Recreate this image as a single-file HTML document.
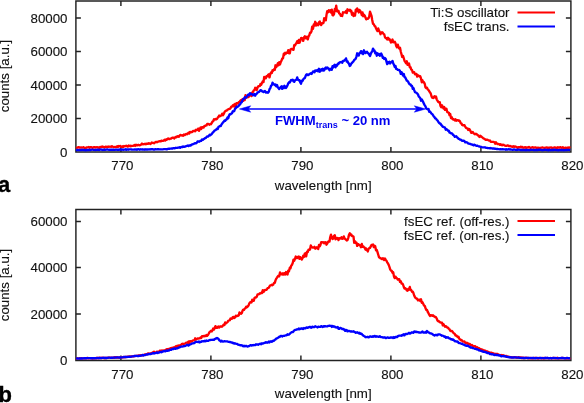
<!DOCTYPE html>
<html><head><meta charset="utf-8"><title>spectra</title>
<style>
html,body{margin:0;padding:0;background:#fff;}
body{width:584px;height:403px;overflow:hidden;}
svg{display:block;will-change:transform;}
text{font-family:"Liberation Sans",sans-serif;font-size:13.3px;fill:#111;stroke:#111;stroke-width:0.12px;}
.b{font-weight:bold;font-size:13.1px;fill:#0000f0;stroke:none;}
.big{font-weight:bold;font-size:22px;fill:#000;stroke:#000;stroke-width:0.3px;}
</style></head><body>
<svg width="584" height="403" viewBox="0 0 584 403">
<rect width="584" height="403" fill="#fff"/>
<!-- top panel -->
<path d="M75.9 1.0H570.9V152.0H75.9Z" fill="none" stroke="#222" stroke-width="1.45"/><path d="M120.9 152.0v-5M120.9 1.0v5M210.9 152.0v-5M210.9 1.0v5M300.9 152.0v-5M300.9 1.0v5M390.9 152.0v-5M390.9 1.0v5M480.9 152.0v-5M480.9 1.0v5M75.9 18.0h5M570.9 18.0h-5M75.9 51.5h5M570.9 51.5h-5M75.9 85.0h5M570.9 85.0h-5M75.9 118.5h5M570.9 118.5h-5" fill="none" stroke="#222" stroke-width="1.45"/><g text-anchor="end" font-size="13.5px"><text x="67.5" y="22.5">80000</text><text x="67.5" y="56.0">60000</text><text x="67.5" y="89.5">40000</text><text x="67.5" y="123.0">20000</text><text x="67.5" y="156.5">0</text></g><g font-size="13.5px"><text x="122.4" y="170.1" text-anchor="middle">770</text><text x="212.4" y="170.1" text-anchor="middle">780</text><text x="302.4" y="170.1" text-anchor="middle">790</text><text x="392.4" y="170.1" text-anchor="middle">800</text><text x="482.4" y="170.1" text-anchor="middle">810</text><text x="572.4" y="170.1" text-anchor="middle">820</text></g><text x="323.2" y="189.7" text-anchor="middle">wavelength [nm]</text><text transform="translate(9.2,76) rotate(-90)" text-anchor="middle">counts [a.u.]</text><polyline points="76.0,148.2 76.8,147.8 77.5,147.7 78.2,147.1 79.0,147.6 79.8,147.5 80.5,147.6 81.2,147.4 82.0,147.6 82.8,147.4 83.5,147.2 84.2,147.8 85.0,147.8 85.8,148.0 86.5,147.5 87.2,147.4 88.0,147.3 88.8,147.0 89.5,147.8 90.2,147.1 91.0,147.1 91.8,147.4 92.5,147.9 93.2,147.5 94.0,147.1 94.8,147.2 95.5,147.6 96.2,147.3 97.0,147.1 97.8,147.3 98.5,147.5 99.2,147.9 100.0,146.9 100.8,147.1 101.5,147.0 102.2,146.5 103.0,146.9 103.8,146.9 104.5,147.5 105.2,147.1 106.0,146.6 106.8,147.2 107.5,146.9 108.2,146.5 109.0,146.8 109.8,146.7 110.5,146.6 111.2,146.9 112.0,146.2 112.8,146.7 113.5,147.1 114.2,147.0 115.0,147.1 115.8,147.0 116.5,147.1 117.2,146.3 118.0,146.9 118.8,146.0 119.5,146.4 120.2,145.9 121.0,146.8 121.8,146.9 122.5,146.3 123.2,146.9 124.0,146.0 124.8,146.3 125.5,146.2 126.2,145.7 127.0,146.2 127.8,146.6 128.5,145.6 129.2,146.1 130.0,145.7 130.8,146.3 131.5,145.8 132.2,145.8 133.0,145.8 133.8,145.6 134.5,145.0 135.2,145.9 136.0,144.8 136.8,145.3 137.5,145.4 138.2,144.8 139.0,145.1 139.8,145.4 140.5,144.9 141.2,144.5 142.0,143.6 142.8,144.2 143.5,144.2 144.2,144.1 145.0,143.8 145.8,144.2 146.5,143.7 147.2,143.7 148.0,143.9 148.8,143.2 149.5,143.3 150.2,144.1 151.0,143.5 151.8,142.5 152.5,142.9 153.2,143.0 154.0,143.2 154.8,142.6 155.5,142.2 156.2,141.9 157.0,142.3 157.8,141.9 158.5,141.4 159.2,141.4 160.0,141.1 160.8,141.4 161.5,140.6 162.2,140.9 163.0,140.9 163.8,140.5 164.5,139.7 165.2,140.6 166.0,139.4 166.8,139.8 167.5,139.0 168.2,138.4 169.0,139.1 169.8,139.0 170.5,138.6 171.2,138.5 172.0,137.9 172.8,137.6 173.5,137.7 174.2,138.5 175.0,137.7 175.8,136.9 176.5,137.2 177.2,136.4 178.0,136.2 178.8,136.7 179.5,135.8 180.2,135.0 181.0,135.2 181.8,135.5 182.5,135.3 183.2,135.7 184.0,134.4 184.8,135.0 185.5,134.5 186.2,133.9 187.0,134.2 187.8,133.7 188.5,132.7 189.2,133.5 190.0,131.9 190.8,132.3 191.5,132.0 192.2,132.0 193.0,131.0 193.8,131.1 194.5,130.8 195.2,131.2 196.0,129.8 196.8,130.0 197.5,129.5 198.2,128.6 199.0,130.8 199.8,128.8 200.5,127.6 201.2,129.0 202.0,127.1 202.8,127.6 203.5,127.6 204.2,126.2 205.0,126.0 205.8,125.5 206.5,125.4 207.2,124.0 208.0,123.9 208.8,124.3 209.5,124.7 210.2,124.0 211.0,124.2 211.8,122.9 212.5,121.5 213.2,121.2 214.0,119.3 214.8,119.5 215.5,118.9 216.2,119.3 217.0,119.0 217.8,117.5 218.5,116.9 219.2,115.6 220.0,116.2 220.8,115.8 221.5,115.3 222.2,113.7 223.0,115.2 223.8,113.9 224.5,112.2 225.2,111.2 226.0,110.7 226.8,110.5 227.5,109.7 228.2,109.4 229.0,109.0 229.8,108.9 230.5,108.2 231.2,106.6 232.0,106.6 232.8,105.4 233.5,104.8 234.2,106.6 235.0,104.0 235.8,105.7 236.5,103.1 237.2,103.2 238.0,103.5 238.8,102.1 239.5,101.9 240.2,100.9 241.0,100.2 241.8,100.0 242.5,99.1 243.2,100.8 244.0,98.6 244.8,99.9 245.5,95.2 246.2,97.4 247.0,97.4 247.8,96.1 248.5,97.0 249.2,96.1 250.0,94.7 250.8,94.6 251.5,96.1 252.2,92.7 253.0,91.9 253.8,90.3 254.5,90.1 255.2,87.8 256.0,88.0 256.8,90.0 257.5,87.7 258.2,86.4 259.0,86.1 259.8,86.1 260.5,83.9 261.2,84.8 262.0,82.9 262.8,81.2 263.5,82.1 264.2,76.9 265.0,78.1 265.8,78.3 266.5,76.2 267.2,76.3 268.0,75.0 268.8,74.3 269.5,77.4 270.2,74.2 271.0,72.4 271.8,73.1 272.5,70.3 273.2,70.7 274.0,69.2 274.8,69.8 275.5,65.3 276.2,67.2 277.0,65.6 277.8,63.3 278.5,65.3 279.2,62.2 280.0,64.5 280.8,61.8 281.5,60.7 282.2,58.7 283.0,58.4 283.8,53.6 284.5,54.7 285.2,52.8 286.0,53.4 286.8,52.4 287.5,52.7 288.2,50.2 289.0,53.2 289.8,53.2 290.5,49.4 291.2,49.0 292.0,48.9 292.8,49.6 293.5,49.9 294.2,45.2 295.0,45.4 295.8,43.9 296.5,42.9 297.2,41.2 298.0,43.0 298.8,40.0 299.5,42.7 300.2,41.2 301.0,38.2 301.8,38.0 302.5,38.3 303.2,40.9 304.0,37.5 304.8,36.3 305.5,38.1 306.2,38.4 307.0,36.8 307.8,39.4 308.5,36.4 309.2,35.6 310.0,32.7 310.8,32.8 311.5,31.3 312.2,26.7 313.0,28.9 313.8,24.4 314.5,25.5 315.2,21.8 316.0,25.5 316.8,23.5 317.5,24.7 318.2,25.3 319.0,22.4 319.8,21.5 320.5,24.0 321.2,25.1 322.0,23.1 322.8,23.4 323.5,22.9 324.2,18.2 325.0,19.3 325.8,20.3 326.5,14.9 327.2,11.1 328.0,12.2 328.8,10.3 329.5,11.6 330.2,10.3 331.0,12.5 331.8,9.7 332.5,15.1 333.2,15.4 334.0,14.1 334.8,9.0 335.5,11.0 336.2,5.6 337.0,11.4 337.8,11.5 338.5,10.8 339.2,13.5 340.0,13.9 340.8,15.8 341.5,15.3 342.2,16.1 343.0,12.3 343.8,12.4 344.5,12.4 345.2,12.5 346.0,11.0 346.8,13.1 347.5,9.3 348.2,10.1 349.0,10.6 349.8,9.7 350.5,11.4 351.2,10.7 352.0,14.7 352.8,12.9 353.5,16.1 354.2,14.5 355.0,15.5 355.8,9.7 356.5,11.3 357.2,8.5 358.0,9.9 358.8,12.5 359.5,10.0 360.2,10.8 361.0,12.5 361.8,15.1 362.5,12.5 363.2,16.2 364.0,14.8 364.8,15.7 365.5,17.6 366.2,19.4 367.0,18.6 367.8,18.8 368.5,18.2 369.2,16.6 370.0,11.6 370.8,13.8 371.5,15.8 372.2,19.9 373.0,23.8 373.8,24.3 374.5,25.9 375.2,26.3 376.0,28.3 376.8,29.9 377.5,31.1 378.2,28.5 379.0,30.6 379.8,32.0 380.5,34.2 381.2,32.6 382.0,32.2 382.8,32.8 383.5,34.0 384.2,34.3 385.0,37.2 385.8,38.1 386.5,38.2 387.2,39.5 388.0,37.8 388.8,39.5 389.5,39.1 390.2,40.3 391.0,42.5 391.8,41.4 392.5,39.5 393.2,42.3 394.0,42.2 394.8,41.8 395.5,43.2 396.2,45.9 397.0,47.3 397.8,44.7 398.5,47.1 399.2,48.4 400.0,47.8 400.8,51.7 401.5,54.2 402.2,56.9 403.0,56.0 403.8,58.3 404.5,60.8 405.2,61.8 406.0,63.3 406.8,61.3 407.5,64.8 408.2,64.6 409.0,63.4 409.8,67.2 410.5,67.2 411.2,69.5 412.0,70.0 412.8,72.6 413.5,72.2 414.2,72.2 415.0,74.3 415.8,74.1 416.5,74.0 417.2,76.6 418.0,75.3 418.8,75.7 419.5,76.5 420.2,76.2 421.0,78.4 421.8,82.2 422.5,80.3 423.2,82.4 424.0,82.3 424.8,84.0 425.5,87.4 426.2,88.0 427.0,87.7 427.8,89.6 428.5,90.0 429.2,91.3 430.0,92.4 430.8,93.7 431.5,96.2 432.2,97.7 433.0,98.0 433.8,97.3 434.5,96.2 435.2,97.4 436.0,96.6 436.8,99.6 437.5,100.6 438.2,102.0 439.0,102.3 439.8,102.2 440.5,106.0 441.2,107.2 442.0,105.3 442.8,107.2 443.5,108.5 444.2,107.0 445.0,109.9 445.8,108.6 446.5,108.9 447.2,112.1 448.0,112.3 448.8,112.7 449.5,115.1 450.2,114.0 451.0,118.1 451.8,117.2 452.5,119.2 453.2,118.9 454.0,119.8 454.8,120.4 455.5,119.3 456.2,120.7 457.0,120.2 457.8,120.1 458.5,120.7 459.2,120.5 460.0,121.4 460.8,123.4 461.5,123.4 462.2,125.0 463.0,125.3 463.8,125.1 464.5,125.2 465.2,126.7 466.0,127.9 466.8,128.3 467.5,128.3 468.2,130.0 469.0,128.9 469.8,129.7 470.5,131.1 471.2,132.9 472.0,132.4 472.8,132.0 473.5,133.3 474.2,133.7 475.0,134.2 475.8,133.8 476.5,133.9 477.2,134.8 478.0,135.3 478.8,136.3 479.5,136.9 480.2,135.8 481.0,136.3 481.8,137.0 482.5,137.4 483.2,138.2 484.0,138.6 484.8,139.0 485.5,139.9 486.2,139.7 487.0,139.7 487.8,139.9 488.5,140.4 489.2,140.6 490.0,140.5 490.8,141.8 491.5,141.9 492.2,141.8 493.0,141.9 493.8,141.9 494.5,142.4 495.2,143.7 496.0,142.3 496.8,143.5 497.5,144.0 498.2,144.0 499.0,144.1 499.8,144.7 500.5,144.2 501.2,144.9 502.0,145.3 502.8,144.6 503.5,144.8 504.2,145.3 505.0,145.7 505.8,145.9 506.5,145.8 507.2,145.5 508.0,145.5 508.8,146.1 509.5,146.2 510.2,145.9 511.0,146.4 511.8,146.6 512.5,146.9 513.2,146.3 514.0,146.9 514.8,146.4 515.5,146.7 516.2,146.8 517.0,147.4 517.8,147.9 518.5,147.1 519.2,147.2 520.0,147.4 520.8,146.7 521.5,147.4 522.2,146.9 523.0,147.8 523.8,147.7 524.5,147.5 525.2,147.2 526.0,147.9 526.8,147.5 527.5,147.5 528.2,147.6 529.0,147.0 529.8,147.6 530.5,147.8 531.2,147.6 532.0,147.5 532.8,147.2 533.5,147.7 534.2,147.6 535.0,147.5 535.8,147.4 536.5,147.8 537.2,147.9 538.0,147.7 538.8,147.9 539.5,148.0 540.2,148.1 541.0,147.7 541.8,147.6 542.5,147.5 543.2,147.7 544.0,147.8 544.8,147.9 545.5,147.6 546.2,147.7 547.0,147.4 547.8,148.1 548.5,147.6 549.2,147.8 550.0,147.5 550.8,147.6 551.5,147.5 552.2,148.2 553.0,147.8 553.8,147.7 554.5,147.4 555.2,147.5 556.0,147.9 556.8,148.2 557.5,147.3 558.2,147.4 559.0,147.7 559.8,147.5 560.5,147.2 561.2,147.7 562.0,147.9 562.8,147.3 563.5,147.8 564.2,148.0 565.0,148.0 565.8,147.6 566.5,148.3 567.2,147.9 568.0,147.5 568.8,148.0 569.5,147.4 570.2,148.0" fill="none" stroke="#ff0000" stroke-width="2.35" stroke-linejoin="round"/><polyline points="76.0,149.8 76.8,150.1 77.5,149.9 78.2,150.1 79.0,150.1 79.8,150.0 80.5,150.0 81.2,150.1 82.0,149.7 82.8,150.0 83.5,150.0 84.2,150.0 85.0,150.0 85.8,150.4 86.5,149.9 87.2,150.0 88.0,149.9 88.8,150.1 89.5,149.6 90.2,150.1 91.0,149.8 91.8,149.6 92.5,149.7 93.2,149.8 94.0,149.9 94.8,149.8 95.5,150.0 96.2,149.8 97.0,149.8 97.8,149.5 98.5,149.9 99.2,150.0 100.0,149.7 100.8,149.5 101.5,149.6 102.2,150.0 103.0,149.7 103.8,149.7 104.5,149.7 105.2,149.9 106.0,149.7 106.8,149.6 107.5,149.5 108.2,149.7 109.0,149.9 109.8,149.7 110.5,149.9 111.2,149.7 112.0,149.7 112.8,149.7 113.5,149.7 114.2,149.9 115.0,149.8 115.8,149.6 116.5,149.7 117.2,149.7 118.0,149.7 118.8,149.7 119.5,149.7 120.2,149.4 121.0,149.7 121.8,149.8 122.5,149.4 123.2,149.9 124.0,149.7 124.8,149.6 125.5,149.3 126.2,149.8 127.0,149.5 127.8,149.5 128.5,149.7 129.2,149.4 130.0,149.4 130.8,149.4 131.5,149.5 132.2,149.6 133.0,149.6 133.8,149.6 134.5,149.5 135.2,149.6 136.0,149.4 136.8,149.8 137.5,149.5 138.2,149.2 139.0,149.3 139.8,149.7 140.5,149.3 141.2,149.4 142.0,149.5 142.8,149.3 143.5,149.6 144.2,149.7 145.0,149.3 145.8,149.6 146.5,149.3 147.2,149.3 148.0,149.5 148.8,149.4 149.5,149.3 150.2,149.5 151.0,149.2 151.8,149.2 152.5,149.2 153.2,149.5 154.0,149.5 154.8,149.5 155.5,149.1 156.2,149.4 157.0,149.4 157.8,149.1 158.5,149.2 159.2,149.4 160.0,149.4 160.8,149.3 161.5,149.4 162.2,149.3 163.0,149.3 163.8,149.2 164.5,149.1 165.2,149.2 166.0,149.1 166.8,149.4 167.5,149.0 168.2,148.9 169.0,148.7 169.8,148.7 170.5,148.6 171.2,148.6 172.0,148.4 172.8,148.5 173.5,148.1 174.2,148.2 175.0,148.2 175.8,147.8 176.5,147.9 177.2,147.9 178.0,147.7 178.8,147.6 179.5,147.2 180.2,147.7 181.0,147.1 181.8,146.9 182.5,147.1 183.2,146.5 184.0,146.9 184.8,146.6 185.5,146.5 186.2,146.2 187.0,145.8 187.8,145.5 188.5,146.1 189.2,145.5 190.0,145.4 190.8,145.6 191.5,144.7 192.2,144.5 193.0,144.2 193.8,143.9 194.5,143.3 195.2,143.1 196.0,143.3 196.8,142.8 197.5,141.5 198.2,141.4 199.0,141.8 199.8,141.3 200.5,140.8 201.2,140.8 202.0,139.4 202.8,139.9 203.5,139.1 204.2,138.8 205.0,138.2 205.8,137.9 206.5,137.1 207.2,136.5 208.0,136.5 208.8,135.8 209.5,134.8 210.2,135.3 211.0,134.6 211.8,134.0 212.5,132.8 213.2,132.3 214.0,131.3 214.8,130.4 215.5,130.2 216.2,129.6 217.0,128.6 217.8,129.0 218.5,126.8 219.2,126.5 220.0,125.9 220.8,126.0 221.5,124.4 222.2,123.6 223.0,122.4 223.8,121.7 224.5,120.5 225.2,120.9 226.0,119.8 226.8,119.2 227.5,117.5 228.2,118.3 229.0,115.6 229.8,114.2 230.5,114.3 231.2,113.7 232.0,113.2 232.8,111.3 233.5,111.4 234.2,111.2 235.0,108.9 235.8,108.1 236.5,106.7 237.2,107.0 238.0,106.5 238.8,105.6 239.5,104.8 240.2,104.3 241.0,102.6 241.8,102.2 242.5,100.0 243.2,99.2 244.0,98.9 244.8,97.3 245.5,97.5 246.2,97.5 247.0,96.3 247.8,94.9 248.5,94.4 249.2,95.2 250.0,93.2 250.8,94.0 251.5,93.9 252.2,94.3 253.0,95.3 253.8,94.3 254.5,93.9 255.2,95.7 256.0,94.2 256.8,93.8 257.5,92.5 258.2,92.3 259.0,91.9 259.8,91.2 260.5,90.1 261.2,90.4 262.0,91.3 262.8,91.5 263.5,92.1 264.2,91.6 265.0,90.9 265.8,92.6 266.5,92.5 267.2,92.2 268.0,92.7 268.8,91.8 269.5,89.2 270.2,88.5 271.0,85.9 271.8,85.2 272.5,82.7 273.2,83.6 274.0,84.3 274.8,85.0 275.5,84.6 276.2,86.4 277.0,85.0 277.8,87.3 278.5,88.0 279.2,89.0 280.0,87.8 280.8,87.0 281.5,86.3 282.2,88.9 283.0,86.5 283.8,88.1 284.5,85.8 285.2,87.5 286.0,88.0 286.8,86.6 287.5,85.2 288.2,83.5 289.0,82.3 289.8,82.6 290.5,81.1 291.2,79.9 292.0,80.4 292.8,79.7 293.5,81.4 294.2,81.8 295.0,80.4 295.8,80.0 296.5,79.7 297.2,77.4 298.0,79.8 298.8,80.4 299.5,80.1 300.2,82.2 301.0,83.8 301.8,80.6 302.5,81.0 303.2,79.5 304.0,78.4 304.8,78.2 305.5,76.3 306.2,74.8 307.0,74.3 307.8,75.0 308.5,75.1 309.2,74.2 310.0,73.7 310.8,73.3 311.5,74.0 312.2,73.0 313.0,71.5 313.8,71.5 314.5,72.3 315.2,70.5 316.0,70.6 316.8,70.8 317.5,69.9 318.2,71.4 319.0,68.8 319.8,71.7 320.5,70.0 321.2,69.3 322.0,70.5 322.8,68.7 323.5,70.5 324.2,70.3 325.0,68.3 325.8,67.5 326.5,68.5 327.2,67.4 328.0,68.3 328.8,68.9 329.5,70.2 330.2,68.8 331.0,69.5 331.8,69.8 332.5,66.1 333.2,67.4 334.0,65.4 334.8,64.8 335.5,67.3 336.2,65.2 337.0,65.7 337.8,63.7 338.5,63.9 339.2,62.7 340.0,62.2 340.8,62.2 341.5,62.0 342.2,62.8 343.0,60.9 343.8,61.0 344.5,60.1 345.2,60.0 346.0,58.4 346.8,61.6 347.5,61.3 348.2,62.9 349.0,63.8 349.8,66.0 350.5,65.3 351.2,63.8 352.0,62.9 352.8,62.0 353.5,61.3 354.2,60.0 355.0,59.4 355.8,58.4 356.5,56.3 357.2,53.3 358.0,55.4 358.8,55.5 359.5,53.1 360.2,52.8 361.0,51.1 361.8,53.4 362.5,51.6 363.2,54.1 364.0,50.3 364.8,52.6 365.5,53.1 366.2,52.1 367.0,51.8 367.8,53.1 368.5,53.4 369.2,54.6 370.0,56.0 370.8,53.8 371.5,52.3 372.2,51.5 373.0,48.6 373.8,50.3 374.5,50.6 375.2,53.3 376.0,52.5 376.8,55.7 377.5,53.3 378.2,54.9 379.0,53.9 379.8,55.9 380.5,55.0 381.2,53.6 382.0,55.2 382.8,57.8 383.5,57.5 384.2,59.0 385.0,58.1 385.8,59.0 386.5,61.7 387.2,64.1 388.0,62.0 388.8,63.0 389.5,61.7 390.2,63.5 391.0,62.1 391.8,62.1 392.5,60.9 393.2,63.2 394.0,64.9 394.8,67.0 395.5,66.0 396.2,68.9 397.0,68.9 397.8,69.9 398.5,70.0 399.2,70.0 400.0,71.0 400.8,73.9 401.5,72.2 402.2,73.4 403.0,75.5 403.8,74.0 404.5,77.1 405.2,77.4 406.0,79.0 406.8,80.6 407.5,80.8 408.2,81.8 409.0,83.5 409.8,84.4 410.5,84.4 411.2,85.8 412.0,86.0 412.8,88.9 413.5,88.1 414.2,90.1 415.0,92.2 415.8,92.5 416.5,92.8 417.2,93.5 418.0,94.5 418.8,96.6 419.5,97.2 420.2,98.0 421.0,100.7 421.8,99.4 422.5,100.7 423.2,102.1 424.0,103.9 424.8,105.3 425.5,106.4 426.2,108.2 427.0,109.0 427.8,109.3 428.5,108.9 429.2,111.7 430.0,111.5 430.8,112.6 431.5,113.7 432.2,114.0 433.0,115.1 433.8,116.5 434.5,117.2 435.2,118.4 436.0,118.7 436.8,119.9 437.5,120.4 438.2,121.7 439.0,122.9 439.8,123.5 440.5,123.7 441.2,124.9 442.0,125.7 442.8,126.8 443.5,126.9 444.2,127.4 445.0,127.7 445.8,129.7 446.5,129.1 447.2,129.6 448.0,130.7 448.8,130.7 449.5,132.5 450.2,132.7 451.0,133.4 451.8,133.3 452.5,134.0 453.2,135.1 454.0,135.6 454.8,136.8 455.5,136.7 456.2,136.2 457.0,137.4 457.8,137.8 458.5,138.8 459.2,138.9 460.0,139.6 460.8,139.7 461.5,140.3 462.2,140.9 463.0,140.6 463.8,140.6 464.5,141.2 465.2,142.3 466.0,142.2 466.8,142.4 467.5,142.6 468.2,143.5 469.0,143.6 469.8,143.8 470.5,144.0 471.2,144.3 472.0,144.5 472.8,144.9 473.5,145.3 474.2,144.7 475.0,145.0 475.8,145.5 476.5,145.8 477.2,145.6 478.0,146.0 478.8,146.3 479.5,146.5 480.2,146.7 481.0,146.9 481.8,147.2 482.5,147.3 483.2,147.3 484.0,147.4 484.8,147.3 485.5,147.5 486.2,147.8 487.0,147.8 487.8,148.1 488.5,148.1 489.2,148.1 490.0,148.3 490.8,148.0 491.5,148.4 492.2,148.4 493.0,148.7 493.8,148.5 494.5,148.7 495.2,148.7 496.0,148.9 496.8,149.0 497.5,149.0 498.2,149.1 499.0,149.2 499.8,149.3 500.5,149.2 501.2,149.3 502.0,149.2 502.8,149.2 503.5,149.4 504.2,149.4 505.0,149.3 505.8,149.7 506.5,149.3 507.2,149.6 508.0,149.5 508.8,149.2 509.5,149.5 510.2,149.3 511.0,149.6 511.8,149.7 512.5,149.9 513.2,149.8 514.0,149.4 514.8,149.6 515.5,149.9 516.2,149.8 517.0,150.0 517.8,149.7 518.5,149.7 519.2,149.6 520.0,149.8 520.8,150.0 521.5,149.8 522.2,150.0 523.0,150.0 523.8,150.1 524.5,149.9 525.2,150.0 526.0,150.3 526.8,149.8 527.5,150.1 528.2,150.2 529.0,150.1 529.8,150.2 530.5,149.6 531.2,149.9 532.0,149.8 532.8,149.9 533.5,150.0 534.2,150.1 535.0,149.9 535.8,150.1 536.5,149.8 537.2,150.1 538.0,150.0 538.8,149.7 539.5,149.7 540.2,149.7 541.0,149.8 541.8,150.0 542.5,150.2 543.2,150.1 544.0,149.8 544.8,149.7 545.5,149.9 546.2,149.8 547.0,150.0 547.8,149.9 548.5,150.3 549.2,149.7 550.0,150.0 550.8,150.2 551.5,149.9 552.2,149.9 553.0,150.2 553.8,149.7 554.5,149.7 555.2,149.8 556.0,150.0 556.8,150.1 557.5,150.0 558.2,150.3 559.0,150.0 559.8,150.0 560.5,149.9 561.2,150.2 562.0,150.0 562.8,149.9 563.5,150.2 564.2,150.2 565.0,150.1 565.8,149.8 566.5,149.8 567.2,150.0 568.0,149.9 568.8,149.9 569.5,150.0 570.2,150.1" fill="none" stroke="#0000ff" stroke-width="2.35" stroke-linejoin="round"/><path d="M243 109H422" fill="none" stroke="#0000ff" stroke-width="1.6"/><path d="M239.4 109L250.7 105.8L248.2 109L250.7 112.2ZM425.7 109L414.3 105.8L416.8 109L414.3 112.2Z" fill="#0000ff" stroke="#0000ff" stroke-width="0.5" stroke-linejoin="miter"/><text x="275" y="125.3" class="b">FWHM<tspan font-size="9px" dy="3">trans</tspan><tspan dy="-3"> ~ 20 nm</tspan></text><text x="509.5" y="17" text-anchor="end">Ti:S oscillator</text><text x="509.5" y="31" text-anchor="end">fsEC trans.</text><path d="M517.5 12.4H555" stroke="#ff0000" stroke-width="2"/><path d="M517.5 26.4H555" stroke="#0000ff" stroke-width="2"/><text x="-2.1" y="192.3" class="big">a</text>
<!-- bottom panel -->
<path d="M75.9 209.5H570.9V360.5H75.9Z" fill="none" stroke="#222" stroke-width="1.45"/><path d="M120.9 360.5v-5M120.9 209.5v5M210.9 360.5v-5M210.9 209.5v5M300.9 360.5v-5M300.9 209.5v5M390.9 360.5v-5M390.9 209.5v5M480.9 360.5v-5M480.9 209.5v5M75.9 221.5h5M570.9 221.5h-5M75.9 267.5h5M570.9 267.5h-5M75.9 314.0h5M570.9 314.0h-5" fill="none" stroke="#222" stroke-width="1.45"/><g text-anchor="end" font-size="13.5px"><text x="67.5" y="226.0">60000</text><text x="67.5" y="272.0">40000</text><text x="67.5" y="318.5">20000</text><text x="67.5" y="365.0">0</text></g><g font-size="13.5px"><text x="122.4" y="378.6" text-anchor="middle">770</text><text x="212.4" y="378.6" text-anchor="middle">780</text><text x="302.4" y="378.6" text-anchor="middle">790</text><text x="392.4" y="378.6" text-anchor="middle">800</text><text x="482.4" y="378.6" text-anchor="middle">810</text><text x="572.4" y="378.6" text-anchor="middle">820</text></g><text x="323.2" y="398.2" text-anchor="middle">wavelength [nm]</text><text transform="translate(9.2,285) rotate(-90)" text-anchor="middle">counts [a.u.]</text><polyline points="76.0,358.3 76.8,358.5 77.5,358.4 78.2,358.4 79.0,358.4 79.8,358.5 80.5,358.4 81.2,358.2 82.0,358.4 82.8,358.4 83.5,358.4 84.2,358.3 85.0,358.4 85.8,358.3 86.5,358.1 87.2,358.0 88.0,358.0 88.8,358.3 89.5,358.1 90.2,358.1 91.0,358.1 91.8,358.3 92.5,358.5 93.2,358.1 94.0,358.4 94.8,358.2 95.5,358.3 96.2,358.0 97.0,357.8 97.8,358.1 98.5,358.2 99.2,357.7 100.0,358.0 100.8,358.0 101.5,358.0 102.2,357.7 103.0,357.8 103.8,358.0 104.5,358.2 105.2,357.9 106.0,358.0 106.8,357.8 107.5,357.9 108.2,357.7 109.0,357.7 109.8,357.6 110.5,357.7 111.2,357.9 112.0,357.7 112.8,357.8 113.5,357.5 114.2,357.8 115.0,357.1 115.8,357.4 116.5,357.5 117.2,357.2 118.0,357.7 118.8,357.6 119.5,357.4 120.2,357.5 121.0,357.2 121.8,357.2 122.5,357.3 123.2,357.0 124.0,357.4 124.8,357.0 125.5,357.2 126.2,356.9 127.0,356.9 127.8,356.6 128.5,356.6 129.2,356.5 130.0,356.6 130.8,356.8 131.5,356.3 132.2,356.3 133.0,356.3 133.8,356.3 134.5,356.1 135.2,355.9 136.0,355.8 136.8,355.8 137.5,355.8 138.2,355.5 139.0,355.5 139.8,355.7 140.5,355.4 141.2,355.1 142.0,355.3 142.8,355.1 143.5,355.0 144.2,354.8 145.0,354.4 145.8,354.4 146.5,354.3 147.2,354.1 148.0,353.4 148.8,353.7 149.5,353.7 150.2,353.6 151.0,353.2 151.8,353.2 152.5,352.5 153.2,352.4 154.0,351.8 154.8,352.4 155.5,352.8 156.2,352.6 157.0,351.6 157.8,351.9 158.5,351.9 159.2,351.3 160.0,350.6 160.8,351.5 161.5,350.7 162.2,350.5 163.0,351.0 163.8,350.5 164.5,350.4 165.2,350.5 166.0,349.7 166.8,349.1 167.5,349.5 168.2,349.0 169.0,349.1 169.8,348.7 170.5,348.1 171.2,348.1 172.0,347.8 172.8,347.6 173.5,347.4 174.2,347.4 175.0,347.1 175.8,346.3 176.5,346.8 177.2,345.8 178.0,346.9 178.8,345.5 179.5,345.4 180.2,345.7 181.0,344.8 181.8,344.1 182.5,343.7 183.2,344.1 184.0,343.8 184.8,343.7 185.5,343.2 186.2,342.6 187.0,342.7 187.8,342.8 188.5,341.5 189.2,343.1 190.0,341.1 190.8,341.6 191.5,341.6 192.2,341.0 193.0,340.4 193.8,340.4 194.5,340.4 195.2,338.3 196.0,339.5 196.8,338.9 197.5,338.5 198.2,338.6 199.0,338.4 199.8,338.3 200.5,337.5 201.2,338.1 202.0,336.2 202.8,336.4 203.5,336.0 204.2,336.4 205.0,335.8 205.8,336.0 206.5,335.0 207.2,335.8 208.0,334.9 208.8,333.5 209.5,332.1 210.2,331.6 211.0,330.7 211.8,331.4 212.5,330.4 213.2,328.5 214.0,329.6 214.8,327.6 215.5,326.1 216.2,327.9 217.0,327.9 217.8,327.0 218.5,326.4 219.2,327.5 220.0,326.4 220.8,326.5 221.5,326.7 222.2,326.5 223.0,325.5 223.8,324.5 224.5,324.9 225.2,322.4 226.0,323.3 226.8,322.6 227.5,322.1 228.2,320.8 229.0,320.5 229.8,320.2 230.5,318.5 231.2,318.8 232.0,318.6 232.8,317.1 233.5,316.9 234.2,318.1 235.0,317.3 235.8,315.7 236.5,316.3 237.2,315.6 238.0,315.9 238.8,315.3 239.5,312.4 240.2,313.3 241.0,313.7 241.8,313.1 242.5,310.8 243.2,309.6 244.0,309.9 244.8,308.5 245.5,308.2 246.2,306.6 247.0,307.3 247.8,306.4 248.5,305.6 249.2,303.7 250.0,302.5 250.8,301.9 251.5,302.4 252.2,299.7 253.0,300.8 253.8,300.8 254.5,298.0 255.2,297.5 256.0,297.5 256.8,296.6 257.5,294.5 258.2,294.4 259.0,294.1 259.8,293.3 260.5,293.5 261.2,292.8 262.0,293.1 262.8,290.1 263.5,292.0 264.2,291.2 265.0,289.9 265.8,289.9 266.5,289.8 267.2,288.8 268.0,287.8 268.8,287.8 269.5,286.4 270.2,285.4 271.0,285.3 271.8,284.8 272.5,285.2 273.2,284.6 274.0,283.0 274.8,282.9 275.5,280.4 276.2,278.8 277.0,277.6 277.8,276.3 278.5,275.7 279.2,276.2 280.0,272.4 280.8,274.3 281.5,273.8 282.2,274.6 283.0,273.3 283.8,274.5 284.5,273.3 285.2,274.4 286.0,272.0 286.8,274.2 287.5,274.5 288.2,270.7 289.0,271.3 289.8,267.8 290.5,268.3 291.2,265.7 292.0,264.7 292.8,262.8 293.5,259.6 294.2,260.7 295.0,258.8 295.8,256.5 296.5,258.1 297.2,258.0 298.0,256.9 298.8,256.5 299.5,258.9 300.2,257.2 301.0,258.5 301.8,259.5 302.5,258.1 303.2,255.8 304.0,256.9 304.8,253.6 305.5,253.3 306.2,256.4 307.0,251.7 307.8,252.0 308.5,249.7 309.2,249.9 310.0,249.4 310.8,245.5 311.5,246.8 312.2,247.3 313.0,247.6 313.8,247.6 314.5,246.8 315.2,248.7 316.0,248.3 316.8,247.3 317.5,247.4 318.2,249.1 319.0,245.0 319.8,246.3 320.5,244.8 321.2,242.2 322.0,242.1 322.8,242.5 323.5,242.3 324.2,243.3 325.0,242.1 325.8,242.3 326.5,244.7 327.2,243.7 328.0,241.8 328.8,241.1 329.5,241.6 330.2,237.3 331.0,234.7 331.8,237.6 332.5,239.0 333.2,238.5 334.0,235.9 334.8,235.3 335.5,239.3 336.2,237.9 337.0,238.7 337.8,238.0 338.5,240.1 339.2,238.4 340.0,238.1 340.8,238.6 341.5,237.2 342.2,238.8 343.0,238.6 343.8,236.4 344.5,238.1 345.2,239.0 346.0,239.6 346.8,240.5 347.5,240.1 348.2,238.1 349.0,234.9 349.8,233.3 350.5,235.0 351.2,234.4 352.0,236.0 352.8,236.1 353.5,236.7 354.2,242.8 355.0,241.2 355.8,243.1 356.5,242.7 357.2,245.9 358.0,244.1 358.8,244.6 359.5,245.1 360.2,245.4 361.0,247.2 361.8,244.0 362.5,246.9 363.2,246.3 364.0,247.3 364.8,247.8 365.5,249.7 366.2,248.6 367.0,250.2 367.8,251.4 368.5,249.1 369.2,248.1 370.0,247.9 370.8,246.4 371.5,244.9 372.2,244.8 373.0,244.5 373.8,247.1 374.5,245.8 375.2,246.3 376.0,250.2 376.8,250.0 377.5,252.1 378.2,254.5 379.0,257.2 379.8,257.7 380.5,258.3 381.2,258.3 382.0,259.1 382.8,258.2 383.5,258.9 384.2,260.1 385.0,258.5 385.8,259.8 386.5,260.8 387.2,262.4 388.0,263.5 388.8,265.1 389.5,267.1 390.2,269.4 391.0,270.6 391.8,270.9 392.5,272.7 393.2,272.3 394.0,276.6 394.8,278.1 395.5,276.6 396.2,277.9 397.0,278.3 397.8,279.6 398.5,279.1 399.2,279.1 400.0,281.9 400.8,281.2 401.5,283.5 402.2,283.4 403.0,284.5 403.8,287.0 404.5,288.6 405.2,288.1 406.0,288.8 406.8,290.4 407.5,290.7 408.2,289.0 409.0,289.7 409.8,287.0 410.5,289.8 411.2,290.1 412.0,291.8 412.8,291.6 413.5,293.3 414.2,295.5 415.0,297.3 415.8,298.0 416.5,298.7 417.2,298.7 418.0,300.4 418.8,300.0 419.5,299.7 420.2,301.0 421.0,299.3 421.8,302.7 422.5,302.3 423.2,303.7 424.0,305.5 424.8,306.0 425.5,308.0 426.2,309.8 427.0,310.0 427.8,312.0 428.5,313.1 429.2,314.7 430.0,316.0 430.8,315.1 431.5,315.4 432.2,315.9 433.0,315.2 433.8,316.3 434.5,316.4 435.2,317.1 436.0,317.2 436.8,318.7 437.5,320.5 438.2,321.4 439.0,321.2 439.8,322.2 440.5,322.5 441.2,322.6 442.0,322.7 442.8,325.3 443.5,324.2 444.2,325.4 445.0,326.7 445.8,326.1 446.5,326.7 447.2,327.5 448.0,327.7 448.8,328.8 449.5,329.2 450.2,330.7 451.0,331.1 451.8,330.9 452.5,331.6 453.2,332.7 454.0,333.4 454.8,334.0 455.5,335.5 456.2,335.4 457.0,336.2 457.8,337.1 458.5,336.8 459.2,338.6 460.0,339.3 460.8,340.3 461.5,339.9 462.2,340.8 463.0,341.5 463.8,341.6 464.5,341.5 465.2,342.8 466.0,342.6 466.8,343.2 467.5,342.9 468.2,344.1 469.0,343.9 469.8,344.0 470.5,345.0 471.2,345.4 472.0,344.9 472.8,346.0 473.5,346.6 474.2,346.4 475.0,346.1 475.8,347.1 476.5,347.6 477.2,347.2 478.0,348.5 478.8,348.1 479.5,348.5 480.2,349.2 481.0,349.2 481.8,349.8 482.5,349.7 483.2,350.1 484.0,350.3 484.8,350.6 485.5,351.0 486.2,351.2 487.0,351.3 487.8,351.9 488.5,351.9 489.2,352.6 490.0,352.7 490.8,352.7 491.5,352.7 492.2,353.1 493.0,353.6 493.8,353.5 494.5,353.9 495.2,353.8 496.0,353.9 496.8,354.0 497.5,353.9 498.2,354.6 499.0,354.8 499.8,354.9 500.5,355.3 501.2,355.0 502.0,355.8 502.8,355.2 503.5,355.8 504.2,355.6 505.0,355.9 505.8,356.4 506.5,356.0 507.2,356.5 508.0,356.6 508.8,356.8 509.5,357.0 510.2,357.2 511.0,357.2 511.8,357.2 512.5,357.3 513.2,357.3 514.0,357.2 514.8,357.1 515.5,357.5 516.2,357.4 517.0,357.8 517.8,357.4 518.5,357.3 519.2,357.8 520.0,357.5 520.8,357.4 521.5,358.0 522.2,357.6 523.0,358.1 523.8,357.8 524.5,358.0 525.2,358.0 526.0,357.7 526.8,358.0 527.5,357.9 528.2,358.0 529.0,358.1 529.8,358.3 530.5,358.0 531.2,358.0 532.0,358.4 532.8,358.2 533.5,358.2 534.2,357.8 535.0,357.8 535.8,358.0 536.5,358.0 537.2,358.1 538.0,358.5 538.8,357.9 539.5,358.0 540.2,358.2 541.0,358.1 541.8,358.3 542.5,358.0 543.2,357.9 544.0,358.5 544.8,358.2 545.5,357.9 546.2,358.1 547.0,358.1 547.8,357.9 548.5,358.3 549.2,358.2 550.0,358.1 550.8,358.0 551.5,358.4 552.2,358.1 553.0,358.0 553.8,357.8 554.5,358.0 555.2,358.3 556.0,358.4 556.8,358.0 557.5,357.8 558.2,358.2 559.0,358.2 559.8,358.3 560.5,358.1 561.2,358.2 562.0,357.9 562.8,358.0 563.5,358.1 564.2,358.1 565.0,358.3 565.8,358.4 566.5,358.0 567.2,358.5 568.0,358.1 568.8,358.2 569.5,358.4 570.2,357.8" fill="none" stroke="#ff0000" stroke-width="2.35" stroke-linejoin="round"/><polyline points="76.0,358.3 76.8,358.4 77.5,358.5 78.2,358.6 79.0,358.5 79.8,358.3 80.5,358.5 81.2,358.3 82.0,358.5 82.8,358.3 83.5,358.4 84.2,358.2 85.0,358.4 85.8,358.1 86.5,358.3 87.2,358.1 88.0,358.2 88.8,358.1 89.5,358.1 90.2,358.2 91.0,358.2 91.8,358.2 92.5,358.2 93.2,358.2 94.0,358.2 94.8,358.2 95.5,358.1 96.2,358.3 97.0,358.0 97.8,358.1 98.5,357.9 99.2,358.3 100.0,357.9 100.8,358.0 101.5,358.1 102.2,357.9 103.0,357.8 103.8,357.7 104.5,357.8 105.2,358.1 106.0,357.8 106.8,358.0 107.5,357.9 108.2,357.7 109.0,357.6 109.8,357.7 110.5,357.8 111.2,357.7 112.0,357.7 112.8,357.7 113.5,357.6 114.2,357.5 115.0,357.6 115.8,357.7 116.5,357.5 117.2,357.4 118.0,357.4 118.8,357.5 119.5,357.5 120.2,357.5 121.0,357.3 121.8,357.4 122.5,357.3 123.2,357.2 124.0,357.0 124.8,357.0 125.5,357.0 126.2,357.0 127.0,357.0 127.8,356.9 128.5,356.8 129.2,356.6 130.0,356.8 130.8,356.7 131.5,356.6 132.2,356.4 133.0,356.4 133.8,356.2 134.5,356.0 135.2,356.1 136.0,355.9 136.8,355.8 137.5,356.1 138.2,356.0 139.0,356.0 139.8,355.7 140.5,355.7 141.2,355.6 142.0,355.3 142.8,354.9 143.5,355.5 144.2,355.2 145.0,355.1 145.8,354.7 146.5,354.4 147.2,354.5 148.0,354.4 148.8,353.9 149.5,353.9 150.2,354.0 151.0,354.0 151.8,353.7 152.5,353.4 153.2,353.1 154.0,353.6 154.8,353.1 155.5,353.1 156.2,352.8 157.0,352.4 157.8,353.0 158.5,352.6 159.2,352.5 160.0,352.0 160.8,352.0 161.5,352.2 162.2,351.7 163.0,351.5 163.8,351.2 164.5,351.0 165.2,351.4 166.0,351.0 166.8,350.4 167.5,350.9 168.2,350.7 169.0,350.5 169.8,349.6 170.5,349.8 171.2,349.9 172.0,349.2 172.8,349.0 173.5,349.0 174.2,348.4 175.0,348.7 175.8,348.7 176.5,348.4 177.2,348.4 178.0,347.9 178.8,347.6 179.5,347.4 180.2,347.0 181.0,346.7 181.8,346.6 182.5,346.6 183.2,346.2 184.0,346.2 184.8,346.0 185.5,345.9 186.2,345.4 187.0,344.8 187.8,344.9 188.5,345.5 189.2,344.9 190.0,344.4 190.8,344.1 191.5,343.8 192.2,343.4 193.0,343.3 193.8,343.1 194.5,343.0 195.2,342.2 196.0,341.9 196.8,341.8 197.5,341.9 198.2,342.1 199.0,341.5 199.8,342.4 200.5,341.8 201.2,341.9 202.0,341.2 202.8,341.3 203.5,341.2 204.2,341.3 205.0,340.6 205.8,341.2 206.5,340.4 207.2,340.9 208.0,340.9 208.8,340.4 209.5,340.2 210.2,340.0 211.0,339.9 211.8,339.8 212.5,339.9 213.2,339.6 214.0,339.8 214.8,339.1 215.5,338.7 216.2,338.5 217.0,338.0 217.8,338.4 218.5,338.9 219.2,340.3 220.0,340.6 220.8,341.6 221.5,340.7 222.2,341.4 223.0,341.6 223.8,341.4 224.5,341.1 225.2,341.3 226.0,341.3 226.8,341.3 227.5,341.4 228.2,341.8 229.0,341.8 229.8,342.0 230.5,342.2 231.2,342.5 232.0,342.4 232.8,343.0 233.5,343.0 234.2,343.6 235.0,343.4 235.8,343.7 236.5,343.9 237.2,343.9 238.0,344.7 238.8,344.8 239.5,344.9 240.2,345.4 241.0,345.1 241.8,345.3 242.5,345.8 243.2,346.2 244.0,345.7 244.8,346.3 245.5,346.0 246.2,345.9 247.0,346.3 247.8,346.6 248.5,346.2 249.2,346.1 250.0,345.6 250.8,345.1 251.5,345.6 252.2,345.1 253.0,345.3 253.8,345.0 254.5,345.1 255.2,345.1 256.0,344.3 256.8,344.6 257.5,344.5 258.2,344.7 259.0,344.2 259.8,343.8 260.5,343.7 261.2,344.3 262.0,343.3 262.8,343.5 263.5,343.4 264.2,342.8 265.0,342.8 265.8,342.2 266.5,342.4 267.2,342.7 268.0,342.4 268.8,341.6 269.5,342.4 270.2,341.4 271.0,341.3 271.8,341.9 272.5,341.4 273.2,340.7 274.0,340.7 274.8,339.8 275.5,339.4 276.2,338.6 277.0,338.3 277.8,337.8 278.5,337.7 279.2,336.7 280.0,336.7 280.8,335.8 281.5,335.8 282.2,336.5 283.0,335.9 283.8,335.8 284.5,335.9 285.2,335.4 286.0,335.4 286.8,335.1 287.5,334.3 288.2,334.7 289.0,334.5 289.8,333.9 290.5,333.0 291.2,332.6 292.0,332.1 292.8,332.1 293.5,331.4 294.2,330.4 295.0,329.9 295.8,329.8 296.5,329.5 297.2,329.3 298.0,329.4 298.8,328.4 299.5,329.3 300.2,328.9 301.0,328.4 301.8,328.7 302.5,328.4 303.2,329.0 304.0,328.0 304.8,328.3 305.5,328.3 306.2,327.7 307.0,327.4 307.8,327.9 308.5,327.4 309.2,327.1 310.0,326.8 310.8,327.5 311.5,327.7 312.2,326.7 313.0,327.0 313.8,327.1 314.5,327.0 315.2,326.2 316.0,326.7 316.8,326.8 317.5,327.5 318.2,326.6 319.0,326.9 319.8,326.8 320.5,326.8 321.2,326.1 322.0,326.6 322.8,327.1 323.5,326.3 324.2,326.6 325.0,326.1 325.8,326.4 326.5,326.4 327.2,326.4 328.0,325.9 328.8,325.8 329.5,325.7 330.2,325.9 331.0,325.8 331.8,326.9 332.5,325.9 333.2,326.7 334.0,326.4 334.8,326.6 335.5,327.4 336.2,327.4 337.0,327.6 337.8,327.1 338.5,328.9 339.2,328.9 340.0,328.0 340.8,328.0 341.5,328.4 342.2,329.0 343.0,328.8 343.8,329.5 344.5,329.4 345.2,330.9 346.0,330.0 346.8,330.1 347.5,331.3 348.2,330.9 349.0,331.0 349.8,331.2 350.5,331.5 351.2,331.3 352.0,331.6 352.8,331.5 353.5,331.3 354.2,331.8 355.0,332.1 355.8,332.8 356.5,332.4 357.2,332.3 358.0,332.8 358.8,333.4 359.5,332.8 360.2,333.8 361.0,333.6 361.8,334.1 362.5,334.9 363.2,335.5 364.0,336.0 364.8,336.4 365.5,337.2 366.2,337.1 367.0,337.0 367.8,336.8 368.5,337.4 369.2,337.2 370.0,336.5 370.8,336.4 371.5,336.8 372.2,336.8 373.0,336.3 373.8,336.7 374.5,335.9 375.2,336.2 376.0,336.7 376.8,336.3 377.5,336.6 378.2,336.7 379.0,336.7 379.8,336.2 380.5,336.8 381.2,337.1 382.0,337.2 382.8,337.5 383.5,337.6 384.2,337.3 385.0,337.4 385.8,338.1 386.5,337.8 387.2,337.5 388.0,337.4 388.8,337.9 389.5,337.9 390.2,337.5 391.0,337.7 391.8,337.5 392.5,337.5 393.2,338.1 394.0,337.1 394.8,337.8 395.5,337.0 396.2,336.9 397.0,337.1 397.8,336.2 398.5,336.0 399.2,335.7 400.0,335.6 400.8,335.7 401.5,335.8 402.2,334.9 403.0,335.2 403.8,334.3 404.5,335.3 405.2,334.2 406.0,334.0 406.8,334.0 407.5,333.8 408.2,333.5 409.0,332.8 409.8,333.5 410.5,333.3 411.2,332.7 412.0,332.3 412.8,332.6 413.5,332.8 414.2,331.5 415.0,331.6 415.8,332.1 416.5,331.8 417.2,332.0 418.0,332.1 418.8,332.5 419.5,332.5 420.2,332.6 421.0,332.6 421.8,332.1 422.5,331.5 423.2,332.5 424.0,332.6 424.8,332.6 425.5,332.0 426.2,332.7 427.0,331.1 427.8,331.9 428.5,332.3 429.2,332.8 430.0,333.3 430.8,333.4 431.5,333.7 432.2,333.9 433.0,334.7 433.8,335.0 434.5,335.5 435.2,335.1 436.0,334.8 436.8,335.2 437.5,335.2 438.2,334.3 439.0,334.3 439.8,334.4 440.5,334.8 441.2,335.1 442.0,335.7 442.8,335.6 443.5,336.1 444.2,336.7 445.0,336.5 445.8,337.7 446.5,337.1 447.2,337.6 448.0,337.3 448.8,338.2 449.5,338.4 450.2,338.7 451.0,339.3 451.8,339.1 452.5,339.9 453.2,339.5 454.0,340.3 454.8,341.2 455.5,341.1 456.2,341.6 457.0,341.5 457.8,341.7 458.5,342.8 459.2,343.0 460.0,343.2 460.8,343.3 461.5,343.9 462.2,343.8 463.0,344.4 463.8,344.7 464.5,344.6 465.2,345.5 466.0,345.4 466.8,345.9 467.5,345.6 468.2,346.0 469.0,346.5 469.8,347.0 470.5,347.5 471.2,347.5 472.0,347.7 472.8,348.1 473.5,348.2 474.2,348.5 475.0,348.8 475.8,348.9 476.5,349.4 477.2,349.2 478.0,349.6 478.8,350.2 479.5,350.2 480.2,350.7 481.0,350.9 481.8,351.0 482.5,351.6 483.2,351.7 484.0,351.7 484.8,351.9 485.5,352.3 486.2,352.2 487.0,353.0 487.8,353.0 488.5,352.9 489.2,353.3 490.0,354.0 490.8,353.9 491.5,354.4 492.2,354.2 493.0,354.4 493.8,354.8 494.5,355.0 495.2,354.6 496.0,355.1 496.8,354.9 497.5,355.2 498.2,355.1 499.0,355.6 499.8,355.5 500.5,355.7 501.2,356.2 502.0,356.2 502.8,356.1 503.5,356.0 504.2,356.4 505.0,356.2 505.8,356.5 506.5,356.8 507.2,356.9 508.0,357.0 508.8,357.2 509.5,357.2 510.2,357.2 511.0,357.3 511.8,357.6 512.5,357.4 513.2,357.5 514.0,357.5 514.8,357.3 515.5,357.4 516.2,357.4 517.0,357.6 517.8,357.6 518.5,357.5 519.2,357.6 520.0,357.8 520.8,357.9 521.5,357.9 522.2,357.9 523.0,358.0 523.8,357.9 524.5,358.0 525.2,358.0 526.0,357.9 526.8,357.9 527.5,358.0 528.2,358.2 529.0,357.9 529.8,357.9 530.5,358.1 531.2,358.1 532.0,358.0 532.8,358.0 533.5,358.0 534.2,358.1 535.0,358.4 535.8,358.0 536.5,358.1 537.2,358.0 538.0,358.1 538.8,358.1 539.5,358.1 540.2,358.0 541.0,358.0 541.8,358.2 542.5,358.1 543.2,358.1 544.0,358.2 544.8,358.0 545.5,358.2 546.2,358.0 547.0,358.0 547.8,358.0 548.5,358.1 549.2,358.4 550.0,358.1 550.8,358.2 551.5,358.3 552.2,358.1 553.0,358.0 553.8,358.1 554.5,358.1 555.2,358.0 556.0,358.1 556.8,358.2 557.5,358.4 558.2,358.3 559.0,358.2 559.8,358.1 560.5,358.1 561.2,358.0 562.0,358.2 562.8,357.9 563.5,358.2 564.2,358.4 565.0,358.2 565.8,358.3 566.5,358.1 567.2,358.0 568.0,358.2 568.8,358.2 569.5,358.3 570.2,358.2" fill="none" stroke="#0000ff" stroke-width="2.35" stroke-linejoin="round"/><text x="509.5" y="225.5" text-anchor="end">fsEC ref. (off-res.)</text><text x="509.5" y="239.5" text-anchor="end">fsEC ref. (on-res.)</text><path d="M517.5 221H555" stroke="#ff0000" stroke-width="2"/><path d="M517.5 235H555" stroke="#0000ff" stroke-width="2"/><text x="-1.6" y="401.6" class="big">b</text>
</svg></body></html>
